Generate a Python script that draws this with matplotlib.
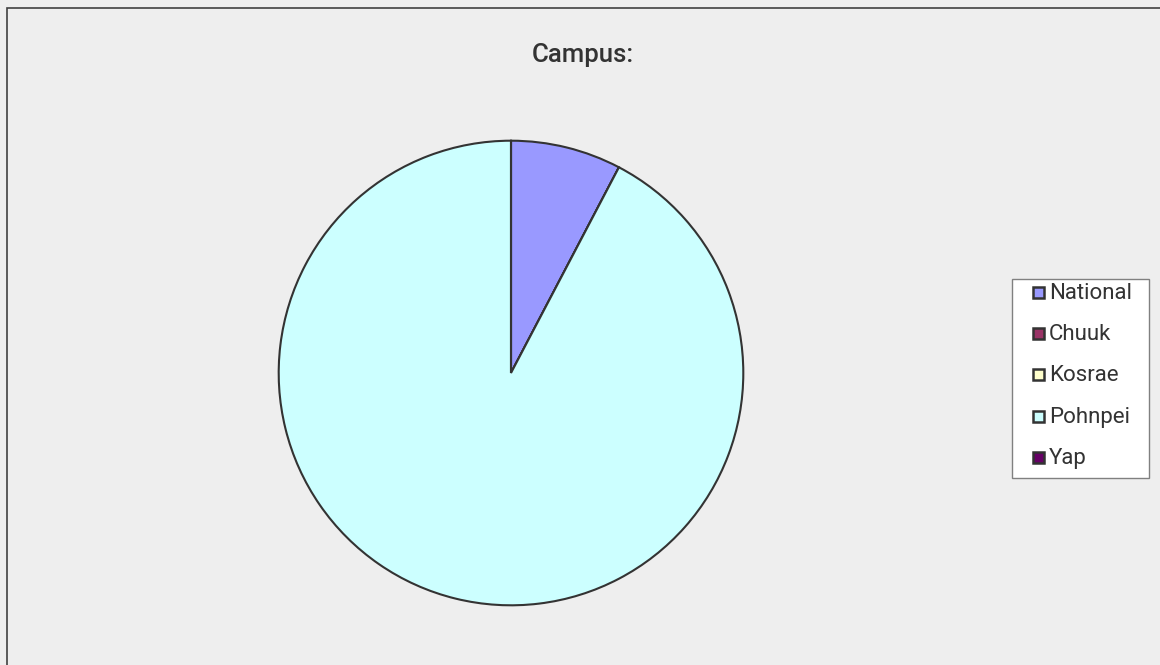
import matplotlib.pyplot as plt
from matplotlib.patches import Rectangle

campuses = ["National", "Chuuk", "Kosrae", "Pohnpei", "Yap"]
counts = [1, 0, 0, 12, 0]
colors = ["#9999FF", "#993366", "#FFFFCC", "#CCFFFF", "#660066"]

W, H = 1160, 665
fig = plt.figure(figsize=(W / 100, H / 100), dpi=100)
fig.patch.set_facecolor("#EEEEEE")


def px(x, y):
    # pixel coords (from top-left) -> figure fraction
    return x / W, 1 - y / H


# outer chart border (left / top only visible)
fig.patches.append(Rectangle((7 / W, -0.1), 1.2, 1 - 8 / H + 0.1,
                             transform=fig.transFigure, fill=False,
                             edgecolor="#404040", linewidth=1.2))

cx, cy, r = 511, 373, 233
ax = fig.add_axes([(cx - r) / W, (H - cy - r) / H, 2 * r / W, 2 * r / H])
ax.set_facecolor("none")
ax.pie(counts, colors=colors, startangle=90, counterclock=False,
       wedgeprops=dict(edgecolor="#333333", linewidth=1.5))
ax.set_xlim(-1.003, 1.003)
ax.set_ylim(-1.003, 1.003)
ax.axis("off")

fig.text(*px(583, 55), "Campus:", ha="center", va="center",
         fontsize=18.5, fontweight="medium", family="Roboto", color="#333333")

# legend drawn by hand
x0, y0 = px(1012, 478)
x1, y1 = px(1149, 279)
fig.patches.append(Rectangle((x0, y0), x1 - x0, y1 - y0,
                             transform=fig.transFigure, facecolor="white",
                             edgecolor="#808080", linewidth=1))
for i, (name, c) in enumerate(zip(campuses, colors)):
    yc = 292.5 + 41.2 * i
    sx, sy = px(1033, yc + 5.5)
    fig.patches.append(Rectangle((sx, sy), 11 / W, 11 / H,
                                 transform=fig.transFigure, facecolor=c,
                                 edgecolor="#333333", linewidth=1.8))
    fig.text(*px(1049, yc + 1), name, ha="left", va="center",
             fontsize=16, family="Roboto", color="#333333")

fig.savefig("out.png", dpi=100, facecolor=fig.get_facecolor())
